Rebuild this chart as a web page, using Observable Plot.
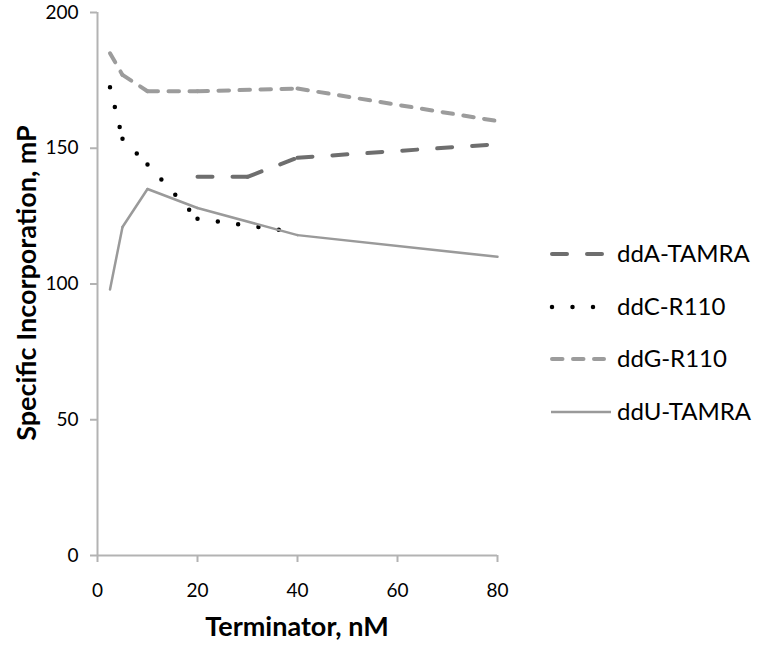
<!DOCTYPE html>
<html><head><meta charset="utf-8">
<script src="https://cdn.jsdelivr.net/npm/d3@7"></script>
<script src="https://cdn.jsdelivr.net/npm/@observablehq/plot@0.6"></script>
<style>
body{margin:0;background:#fff;}
#chart{position:relative;width:760px;height:648px;font-family:Lato, "Open Sans", sans-serif;}
#chart svg [aria-label="x-axis tick"], #chart svg [aria-label="y-axis tick"]{stroke:#b3b3b3;stroke-width:2px;}
</style></head><body><div id="chart"></div>
<script>
// ---- data ----
const seriesNames = ["ddA-TAMRA", "ddC-R110", "ddG-R110", "ddU-TAMRA"];
const ddA_x = [20, 30, 40, 80];
const ddA_y = [139.5, 139.5, 146.5, 151.5];
const ddC_x = [2.5, 5, 10, 20, 40];
const ddC_y = [172.5, 153.5, 144, 124, 119];
const ddG_x = [2.5, 5, 10, 20, 40, 80];
const ddG_y = [185, 177, 171, 171, 172, 160];
const ddU_x = [2.5, 5, 10, 20, 40, 80];
const ddU_y = [98, 121, 135, 128, 118, 110];
const xTicks = [0, 20, 40, 60, 80];
const yTicks = [0, 50, 100, 150, 200];
const xTitle = "Terminator, nM";
const yTitle = "Specific Incorporation, mP";

// ---- styles ----
const styles = {
  "ddA-TAMRA": {stroke: "#6e6e6e", strokeWidth: 4, dash: "15,20"},
  "ddC-R110": {stroke: "#000000", strokeWidth: 4.5, dash: "0,20.5"},
  "ddG-R110": {stroke: "#9c9c9c", strokeWidth: 4, dash: "10.5,10.5"},
  "ddU-TAMRA": {stroke: "#9a9a9a", strokeWidth: 2.5, dash: null}
};
const seriesData = {
  "ddA-TAMRA": [ddA_x, ddA_y],
  "ddC-R110": [ddC_x, ddC_y],
  "ddG-R110": [ddG_x, ddG_y],
  "ddU-TAMRA": [ddU_x, ddU_y]
};

// build segment rows (Excel restarts dash pattern at each vertex)
function segments(name) {
  const [xs, ys] = seriesData[name];
  const rows = [];
  for (let i = 0; i < xs.length - 1; i++) {
    rows.push({z: name + i, x: xs[i], y: ys[i]});
    rows.push({z: name + i, x: xs[i + 1], y: ys[i + 1]});
  }
  return rows;
}

const lineMarks = seriesNames.map(name => {
  const s = styles[name];
  const opts = {x: "x", y: "y", z: "z", stroke: s.stroke, strokeWidth: s.strokeWidth, strokeLinecap: "round", strokeLinejoin: "round"};
  if (s.dash) opts.strokeDasharray = s.dash;
  return Plot.line(segments(name), opts);
});

const plot = Plot.plot({
  width: 760,
  height: 648,
  marginLeft: 97,
  marginRight: 263,
  marginTop: 12,
  marginBottom: 93,
  style: {fontFamily: "Lato, 'Open Sans', sans-serif", fontSize: "19px", color: "#000", background: "#fff"},
  x: {domain: [0, 80]},
  y: {domain: [0, 200]},
  marks: [
    Plot.axisX({ticks: xTicks, tickSize: 7, tickPadding: 21, label: null}),
    Plot.axisY({ticks: yTicks, tickSize: 7, tickPadding: 12, label: null}),
    Plot.ruleY([0], {stroke: "#b3b3b3", strokeWidth: 2}),
    Plot.ruleX([0], {stroke: "#b3b3b3", strokeWidth: 2}),
    ...lineMarks
  ]
});

document.getElementById("chart").appendChild(plot);

const svg = d3.select(plot);
// axis titles
svg.append("text")
  .attr("x", 297).attr("y", 627).attr("dy", "0.35em")
  .attr("text-anchor", "middle")
  .style("font-size", "27px").style("font-weight", "bold").attr("fill", "#000")
  .text(xTitle);
svg.append("text")
  .attr("transform", "translate(27,283) rotate(-90)")
  .attr("dy", "0.35em")
  .attr("text-anchor", "middle")
  .style("font-size", "27px").style("font-weight", "bold").attr("fill", "#000")
  .text(yTitle);

// legend
const legendY = [254, 307, 359, 412];
const lg = svg.append("g").attr("class", "legend");
seriesNames.forEach((name, i) => {
  const s = styles[name];
  const g = lg.append("g").attr("transform", `translate(0,${legendY[i]})`);
  const ln = g.append("line")
    .attr("x1", name === "ddU-TAMRA" ? 551 : 552).attr("x2", name === "ddU-TAMRA" ? 611 : 604)
    .attr("y1", 0).attr("y2", 0)
    .attr("stroke", s.stroke).attr("stroke-width", s.strokeWidth)
    .attr("stroke-linecap", name === "ddU-TAMRA" ? "butt" : "round");
  if (s.dash) ln.attr("stroke-dasharray", s.dash);
  g.append("text").attr("x", 617).attr("y", 0).attr("dy", "0.35em")
    .attr("text-anchor", "start")
    .style("font-size", "24px").attr("fill", "#000").text(name);
});
</script>
</body></html>
